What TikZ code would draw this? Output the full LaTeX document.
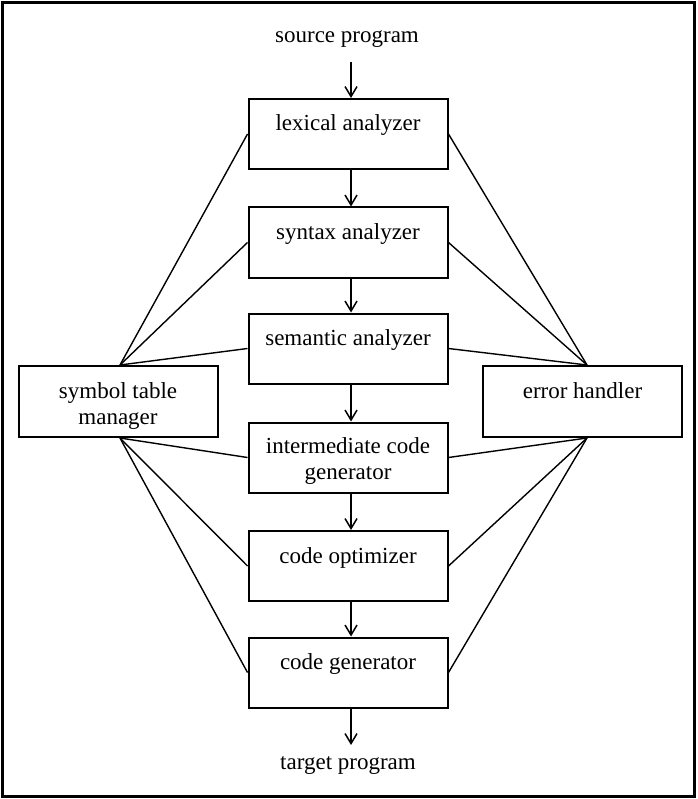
\documentclass[tikz,border=0pt]{standalone}
\usepackage{fontspec}
\setmainfont{Liberation Serif}
\usetikzlibrary{arrows.meta,calc}
\begin{document}
\begin{tikzpicture}[x=1pt,y=-1pt,
  box/.style={draw,line width=2pt,rectangle,minimum width=199pt,minimum height=70pt,inner sep=0pt},
  txt/.style={inner sep=0pt,anchor=base,font=\fontsize{23}{26}\selectfont},
  flow/.style={-{Straight Barb[length=10pt,width=12pt]},line width=1.5pt},
  link/.style={line width=1.4pt}]
\useasboundingbox (0,0) rectangle (697,799);
\draw[line width=3pt] (2.5,2.5) rectangle (694.5,796.5);
% labels
\node[txt] (src) at (347,43) {source program};
\node[txt] (tgt) at (348,769) {target program};
% phase boxes
\node[box] (lex) at (348,134) {};
\node[box] (syn) at (348,242.5) {};
\node[box] (sem) at (348,348.5) {};
\node[box] (int) at (348,457.5) {};
\node[box] (opt) at (348,566) {};
\node[box] (gen) at (348,672.5) {};
% side boxes
\node[box,minimum height=71pt] (sym) at (118,401.5) {};
\node[box,minimum height=71pt] (err) at (582.5,401.5) {};
% box texts
\node[txt] (lext) at ([yshift=-33pt]lex.north) {lexical analyzer};
\node[txt] (synt) at ([yshift=-33pt]syn.north) {syntax analyzer};
\node[txt] (semt) at ([yshift=-33pt]sem.north) {semantic analyzer};
\node[txt] (intt) at ([yshift=-32pt]int.north) {intermediate code};
\node[txt] (intu) at ([yshift=-58pt]int.north) {generator};
\node[txt] (optt) at ([yshift=-33pt]opt.north) {code optimizer};
\node[txt] (gent) at ([yshift=-33pt]gen.north) {code generator};
\node[txt] (symt) at ([yshift=-33pt]sym.north) {symbol table};
\node[txt] (symu) at ([yshift=-59pt]sym.north) {manager};
\node[txt] (errt) at ([yshift=-33pt]err.north) {error handler};
% flow arrows
\coordinate (a0) at (351,62);
\coordinate (a7) at (351,745);
\draw[flow] (a0) -- (lex.north -| a0);
\draw[flow] (lex.south -| a0) -- (syn.north -| a0);
\draw[flow] (syn.south -| a0) -- (sem.north -| a0);
\draw[flow] (sem.south -| a0) -- (int.north -| a0);
\draw[flow] (int.south -| a0) -- (opt.north -| a0);
\draw[flow] (opt.south -| a0) -- (gen.north -| a0);
\draw[flow] (gen.south -| a0) -- (a7);
% links
\coordinate (st) at ([xshift=2pt]sym.north);
\coordinate (sb) at ([xshift=2pt]sym.south);
\coordinate (et) at ([xshift=4.5pt]err.north);
\coordinate (eb) at ([xshift=4.5pt]err.south);
\draw[link] (st) -- (lex.west);
\draw[link] (st) -- (syn.west);
\draw[link] (st) -- (sem.west);
\draw[link] (sb) -- (int.west);
\draw[link] (sb) -- (opt.west);
\draw[link] (sb) -- (gen.west);
\draw[link] (et) -- (lex.east);
\draw[link] (et) -- (syn.east);
\draw[link] (et) -- (sem.east);
\draw[link] (eb) -- (int.east);
\draw[link] (eb) -- (opt.east);
\draw[link] (eb) -- (gen.east);
\end{tikzpicture}
\end{document}
